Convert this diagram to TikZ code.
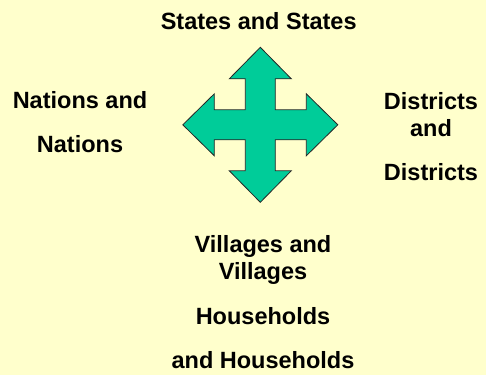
\documentclass[tikz,border=0pt]{standalone}
\usepackage{fontspec}
\setmainfont{Liberation Sans}
\usepackage{tikz}

\definecolor{paleyellow}{HTML}{FFFFCC}
\definecolor{arrowgreen}{HTML}{00CC99}

\begin{document}
\begin{tikzpicture}[
  x=1pt, y=-1pt,
  levellabel/.style={
    anchor=base, inner sep=0pt, align=center,
    font=\fontsize{23.5}{27}\selectfont\bfseries
  },
  crossarrow/.style={fill=arrowgreen, draw=black!85, line width=0.8pt, line join=miter},
]
% --- Background ---
\fill[paleyellow] (0,0) rectangle (486,375);
% --- Four-way arrow ---
\coordinate (mid) at (260.3,124.8);
\draw[crossarrow, shift={(mid)}]
  (0,-77.5) -- (31,-46) -- (15,-46) -- (15,-15)
  -- (46,-15) -- (46,-31) -- (77.5,0) -- (46,31) -- (46,15) -- (15,15)
  -- (15,46) -- (31,46) -- (0,77.5) -- (-31,46) -- (-15,46) -- (-15,15)
  -- (-46,15) -- (-46,31) -- (-77.5,0) -- (-46,-31) -- (-46,-15) -- (-15,-15)
  -- (-15,-46) -- (-31,-46) -- cycle;
% --- Labels (base = last line) ---
\node[levellabel] (states) at (258.7,29) {States and States};
\node[levellabel] (nations) at (80,152.7) {Nations and\\[17pt]Nations};
\node[levellabel] (districts) at (431,180) {Districts\\and\\[17pt]Districts};
\node[levellabel] (villages) at (263,368.5)
  {Villages and\\Villages\\[18pt]Households\\[17pt]and Households};
\end{tikzpicture}
\end{document}
